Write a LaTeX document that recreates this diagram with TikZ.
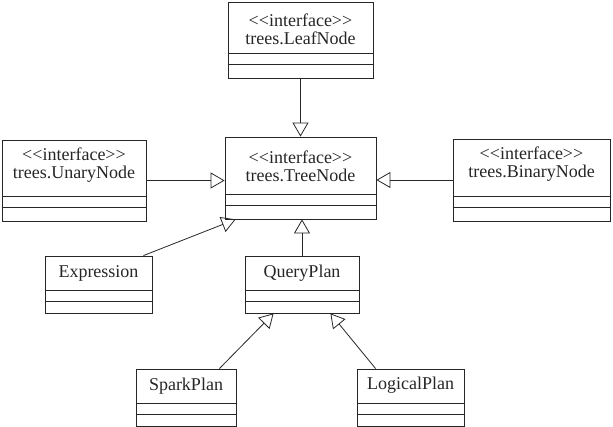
\documentclass[tikz,border=0pt]{standalone}
\usepackage{fontspec}
\setmainfont{Liberation Serif}
\usepackage{tikz}
\usetikzlibrary{arrows.meta}

\begin{document}
\begin{tikzpicture}[x=1pt,y=1pt,line width=0.8pt,draw=black!85,
  >={Triangle[open,length=14pt,width=16pt]}]
  \tikzset{cls/.style={draw,inner sep=0pt},
           title/.style={inner sep=0pt,align=center,text=black!85,
             font=\fontsize{18}{18}\selectfont}}
  \useasboundingbox (0,0) rectangle (613,427);

  % interfaces
  \node[cls,minimum width=145pt,minimum height=76pt] (leaf)   at (300.5,387) {};
  \node[cls,minimum width=151pt,minimum height=82pt] (tree)   at (300.5,249) {};
  \node[cls,minimum width=144pt,minimum height=81pt] (unary)  at (74,246.5)  {};
  \node[cls,minimum width=157pt,minimum height=82pt] (binary) at (531.5,247) {};
  % classes
  \node[cls,minimum width=107pt,minimum height=57pt] (expr)    at (98.5,142.5) {};
  \node[cls,minimum width=114pt,minimum height=57pt] (query)   at (302,142.5)  {};
  \node[cls,minimum width=100pt,minimum height=57pt] (spark)   at (186,29.5)   {};
  \node[cls,minimum width=107pt,minimum height=57pt] (logical) at (410.5,29.5) {};

  \node[title] at ([yshift=-28pt]leaf.north)   {<{}<interface>{}>\\trees.LeafNode};
  \node[title] at ([yshift=-30pt]tree.north)   {<{}<interface>{}>\\trees.TreeNode};
  \node[title] at ([yshift=-26pt]unary.north)  {<{}<interface>{}>\\trees.UnaryNode};
  \node[title] at ([yshift=-26pt]binary.north) {<{}<interface>{}>\\trees.BinaryNode};
  \node[title] at ([yshift=-18pt]expr.north)    {Expression};
  \node[title] at ([yshift=-18pt]query.north)   {QueryPlan};
  \node[title] at ([yshift=-18pt]spark.north)   {SparkPlan};
  \node[title] at ([yshift=-17pt]logical.north) {LogicalPlan};

  % compartments
  \foreach \n in {leaf,tree,unary,binary}
    \draw ([yshift=25pt]\n.south west) -- ([yshift=25pt]\n.south east)
          ([yshift=14pt]\n.south west) -- ([yshift=14pt]\n.south east);
  \foreach \n in {expr,query,spark,logical}
    \draw ([yshift=23pt]\n.south west) -- ([yshift=23pt]\n.south east)
          ([yshift=12pt]\n.south west) -- ([yshift=12pt]\n.south east);

  % generalizations
  \draw[->] (leaf.south) -- (tree.north);
  \draw[->] (unary.east) -- (unary.east -| tree.west);
  \draw[->] (binary.west) -- (binary.west -| tree.east);
  \draw[->] ([xshift=-9pt]expr.north east) -- ([xshift=11pt]tree.south west);
  \draw[->] (query.north) -- (query.north |- tree.south);
  \draw[->] ([xshift=-17pt]spark.north east) -- ([xshift=29pt]query.south west);
  \draw[->] ([xshift=19pt]logical.north west) -- ([xshift=-29pt]query.south east);
\end{tikzpicture}
\end{document}
